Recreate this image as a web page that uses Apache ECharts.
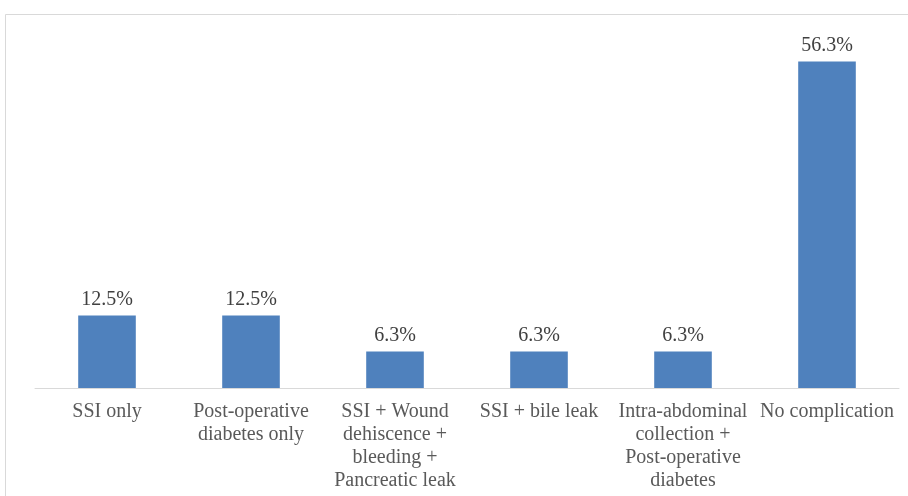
<!DOCTYPE html>
<html>
<head>
<meta charset="utf-8">
<script src="https://cdn.jsdelivr.net/npm/echarts@6/dist/echarts.min.js"></script>
<style>
  html, body { margin: 0; padding: 0; background: #ffffff; }
  #chart { width: 908px; height: 496px; }
</style>
</head>
<body>
<div id="chart"></div>
<script>
// Complication categories (line breaks as printed under each bar)
const categories = [
  'SSI only',
  'Post-operative\ndiabetes only',
  'SSI + Wound\ndehiscence +\nbleeding +\nPancreatic leak',
  'SSI + bile leak',
  'Intra-abdominal\ncollection +\nPost-operative\ndiabetes',
  'No complication'
];
// Share of patients, percent
const percentages = [12.5, 12.5, 6.3, 6.3, 6.3, 56.3];

const chart = echarts.init(document.getElementById('chart'), null, { renderer: 'canvas' });

const serif = '"Liberation Serif", "Times New Roman", serif';

chart.setOption({
  animation: false,
  backgroundColor: '#ffffff',
  graphic: [{
    type: 'rect',
    shape: { x: 5.5, y: 14.5, width: 940, height: 520 },
    style: { fill: 'none', stroke: '#d9d9d9', lineWidth: 1 },
    silent: true
  }],
  grid: { left: 35, right: 9, top: 40, bottom: 108, containLabel: false },
  xAxis: {
    type: 'category',
    data: categories,
    axisLine: { show: true, lineStyle: { color: '#d9d9d9', width: 1 } },
    axisTick: { show: false },
    axisLabel: {
      interval: 0,
      margin: 12,
      color: '#595959',
      fontFamily: serif,
      fontSize: 20,
      lineHeight: 23,
      align: 'center'
    }
  },
  yAxis: {
    type: 'value',
    min: 0,
    max: 60,
    show: false,
    splitLine: { show: false }
  },
  series: [{
    type: 'bar',
    data: percentages,
    barCategoryGap: '60%',
    itemStyle: { color: '#4f81bd' },
    label: {
      show: true,
      position: 'top',
      distance: 6,
      color: '#404040',
      fontFamily: serif,
      fontSize: 20,
      formatter: p => p.value.toFixed(1) + '%'
    }
  }]
});
</script>
</body>
</html>
